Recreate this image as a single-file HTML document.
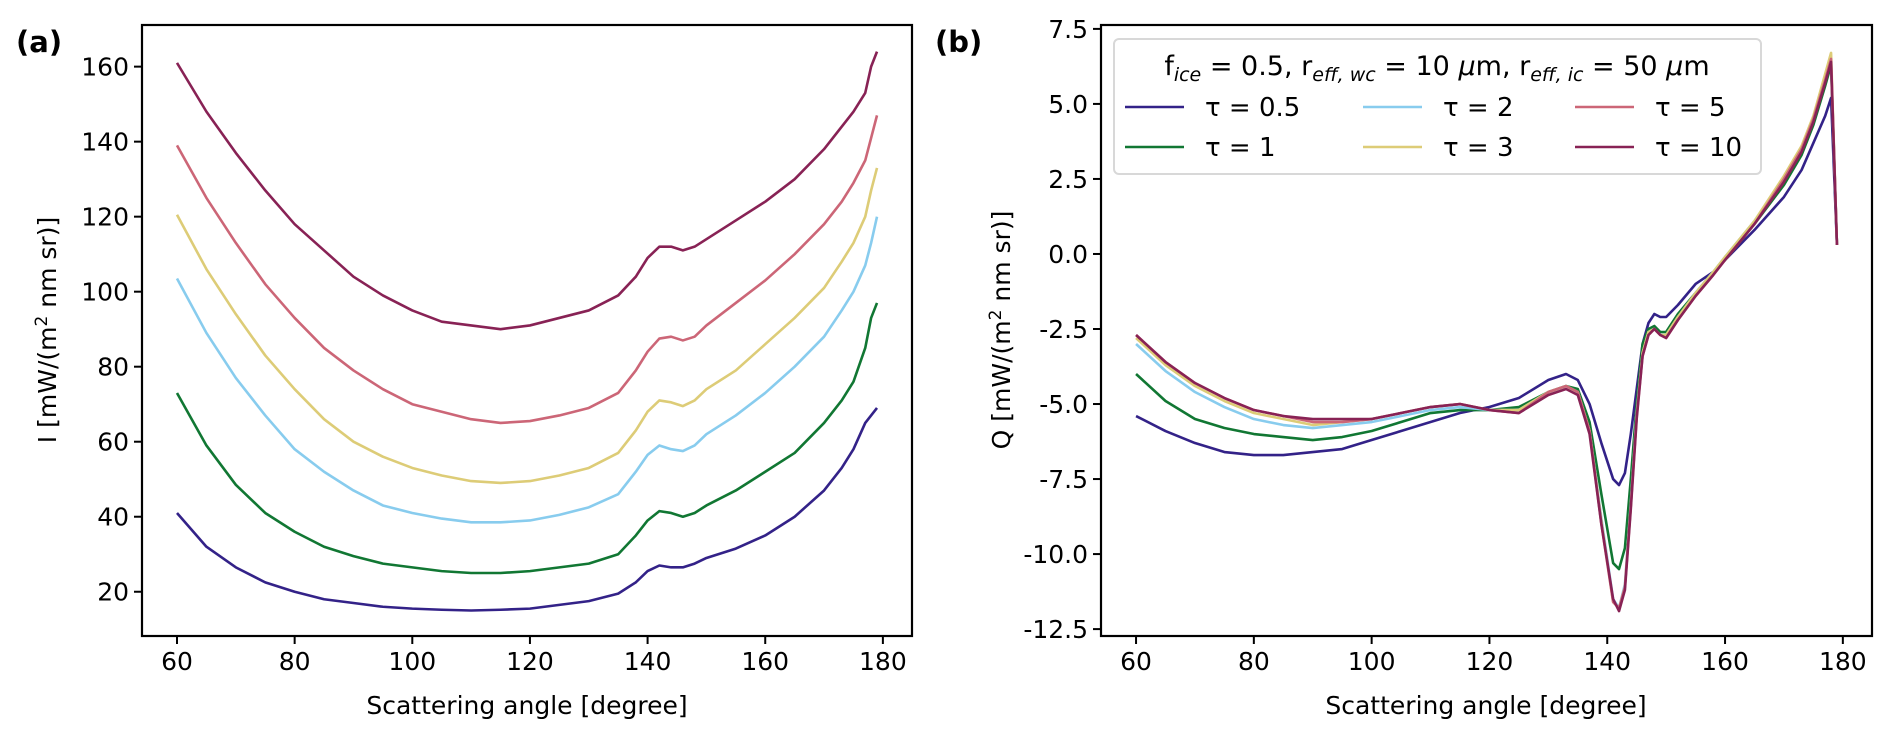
<!DOCTYPE html>
<html><head><meta charset="utf-8"><style>
html,body{margin:0;padding:0;background:#fff;}
svg{display:block;font-family:"DejaVu Sans","Liberation Sans",sans-serif;}
</style></head><body>
<svg id="fig" width="1892" height="740" viewBox="0 0 1892 740" xmlns="http://www.w3.org/2000/svg">
<rect width="1892" height="740" fill="#fff"/>
<g id="pa"></g>
<g id="pb"></g>
<text x="16" y="52" font-size="29" font-weight="bold">(a)</text>
<text x="935" y="52" font-size="29" font-weight="bold">(b)</text>
<text x="527" y="714" font-size="25" text-anchor="middle">Scattering angle [degree]</text>
<text x="1486" y="714" font-size="25" text-anchor="middle">Scattering angle [degree]</text>
<text transform="translate(56,330) rotate(-90)" font-size="25" text-anchor="middle">I [mW/(m<tspan dy="-9" font-size="17">2</tspan><tspan dy="9"> nm sr)]</tspan></text>
<text transform="translate(1010,330) rotate(-90)" font-size="25" text-anchor="middle">Q [mW/(m<tspan dy="-9" font-size="17">2</tspan><tspan dy="9"> nm sr)]</tspan></text>
<g>
<rect x="1114" y="39" width="647" height="135" rx="5" fill="#fff" fill-opacity="0.85" stroke="#d8d8d8" stroke-width="2"/>
<text x="1437" y="75" font-size="27" text-anchor="middle">f<tspan font-style="italic" font-size="19" dy="6">ice</tspan><tspan dy="-6"> = 0.5, r</tspan><tspan font-style="italic" font-size="19" dy="6">eff, wc</tspan><tspan dy="-6"> = 10 </tspan><tspan font-style="italic">μ</tspan>m, r<tspan font-style="italic" font-size="19" dy="6">eff, ic</tspan><tspan dy="-6"> = 50 </tspan><tspan font-style="italic">μ</tspan>m</text>
<g id="legItems"></g>
</g>
</svg>
<script>
const xsA = [60,65,70,75,80,85,90,95,100,105,110,115,120,125,130,135,138,140,142,144,146,148,150,155,160,165,170,173,175,177,178,179];
const iT05 = [41,32,26.5,22.5,20,18,17,16,15.5,15.2,15,15.2,15.5,16.5,17.5,19.5,22.5,25.5,27,26.5,26.5,27.5,29,31.5,35,40,47,53,58,65,67,69];
const iT1 = [73,59,48.5,41,36,32,29.5,27.5,26.5,25.5,25,25,25.5,26.5,27.5,30,35,39,41.5,41,40,41,43,47,52,57,65,71,76,85,93,97];
const iT2 = [103.5,89,77,67,58,52,47,43,41,39.5,38.5,38.5,39,40.5,42.5,46,52,56.5,59,58,57.5,59,62,67,73,80,88,95,100,107,113,120];
const iT3 = [120.5,106,94,83,74,66,60,56,53,51,49.5,49,49.5,51,53,57,63,68,71,70.5,69.5,71,74,79,86,93,101,108,113,120,127,133];
const iT5 = [139,125,113,102,93,85,79,74,70,68,66,65,65.5,67,69,73,79,84,87.5,88,87,88,91,97,103,110,118,124,129,135,141,147];
const iT10 = [161,148,137,127,118,111,104,99,95,92,91,90,91,93,95,99,104,109,112,112,111,112,114,119,124,130,138,144,148,153,160,164];
const xsB = [60,65,70,75,80,85,90,95,100,105,110,115,120,125,130,133,135,137,139,141,142,143,144,145,146,147,148,149,150,152,155,158,160,165,170,173,175,177,178,179];
const qT05 = [-5.4,-5.9,-6.3,-6.6,-6.7,-6.7,-6.6,-6.5,-6.2,-5.9,-5.6,-5.3,-5.1,-4.8,-4.2,-4.0,-4.2,-5.0,-6.3,-7.5,-7.7,-7.3,-6.0,-4.5,-3.0,-2.3,-2.0,-2.1,-2.1,-1.7,-1.0,-0.6,-0.2,0.8,1.9,2.8,3.7,4.6,5.2,0.3];
const qT1 = [-4.0,-4.9,-5.5,-5.8,-6.0,-6.1,-6.2,-6.1,-5.9,-5.6,-5.3,-5.2,-5.2,-5.1,-4.6,-4.4,-4.5,-5.6,-8.0,-10.3,-10.5,-9.8,-7.5,-5.0,-3.0,-2.5,-2.4,-2.6,-2.6,-2.0,-1.3,-0.6,-0.2,1.0,2.3,3.3,4.3,5.6,6.3,0.3];
const qT2 = [-3.0,-3.9,-4.6,-5.1,-5.5,-5.7,-5.8,-5.7,-5.6,-5.4,-5.2,-5.1,-5.2,-5.2,-4.6,-4.4,-4.6,-5.9,-8.8,-11.5,-11.8,-11.0,-8.3,-5.3,-3.3,-2.6,-2.5,-2.7,-2.7,-2.1,-1.3,-0.6,-0.1,1.1,2.5,3.5,4.5,5.9,6.5,0.3];
const qT3 = [-2.8,-3.7,-4.4,-4.9,-5.3,-5.5,-5.7,-5.6,-5.5,-5.3,-5.1,-5.0,-5.2,-5.2,-4.6,-4.4,-4.6,-5.9,-8.9,-11.6,-11.8,-11.1,-8.4,-5.4,-3.3,-2.6,-2.5,-2.7,-2.7,-2.1,-1.3,-0.6,-0.1,1.1,2.6,3.6,4.6,6.0,6.7,0.3];
const qT5 = [-2.7,-3.6,-4.3,-4.8,-5.2,-5.4,-5.6,-5.6,-5.5,-5.3,-5.1,-5.0,-5.2,-5.3,-4.6,-4.4,-4.6,-5.9,-9.0,-11.6,-11.8,-11.1,-8.4,-5.4,-3.4,-2.7,-2.5,-2.7,-2.8,-2.2,-1.4,-0.7,-0.2,1.0,2.5,3.5,4.5,5.8,6.5,0.3];
const qT10 = [-2.7,-3.6,-4.3,-4.8,-5.2,-5.4,-5.5,-5.5,-5.5,-5.3,-5.1,-5.0,-5.2,-5.3,-4.7,-4.5,-4.7,-6.0,-9.0,-11.5,-11.9,-11.2,-8.5,-5.5,-3.4,-2.7,-2.5,-2.7,-2.8,-2.2,-1.4,-0.7,-0.2,1.0,2.4,3.4,4.4,5.7,6.4,0.3];
const seriesLabels = ["τ = 0.5","τ = 1","τ = 2","τ = 3","τ = 5","τ = 10"];
const seriesKeys = ["tau-0-5","tau-1","tau-2","tau-3","tau-5","tau-10"];
const xTicks = [60,80,100,120,140,160,180];
const yTicksA = [20,40,60,80,100,120,140,160];
const yTicksB = [-12.5,-10.0,-7.5,-5.0,-2.5,0.0,2.5,5.0,7.5];

const colors = ["#332288","#117733","#88CCEE","#DDCC77","#CC6677","#882255"];
const NS = "http://www.w3.org/2000/svg";
function mk(tag, attrs, parent){const e=document.createElementNS(NS,tag);for(const k in attrs)e.setAttribute(k,attrs[k]);parent.appendChild(e);return e;}

function drawPanel(g, L, R, T, B, xmin, xmax, ymin, ymax, yTicks, fmt, xs, series, tag){
  const sx = v => L + (v - xmin) / (xmax - xmin) * (R - L);
  const sy = v => B - (v - ymin) / (ymax - ymin) * (B - T);
  series.forEach((ys, i) => {
    const d = ys.map((y, j) => (j ? "L" : "M") + sx(xs[j]).toFixed(2) + " " + sy(y).toFixed(2)).join(" ");
    const p = mk("path", {d: d, fill: "none", stroke: colors[i], "stroke-width": 2.6, "stroke-linejoin": "round"}, g);
    
    
  });
  const frame = mk("rect", {x: L, y: T, width: R - L, height: B - T, fill: "none", stroke: "#000", "stroke-width": 2.2}, g);
  
  
  xTicks.forEach(t => {
    const x = sx(t);
    const tk = mk("line", {x1: x, x2: x, y1: B, y2: B + 8, stroke: "#000", "stroke-width": 2}, g);
    
    
    const tx = mk("text", {x: x, y: B + 34, "font-size": 25, "text-anchor": "middle"}, g);
    tx.textContent = t;
    
    
  });
  yTicks.forEach(t => {
    const y = sy(t);
    const tk = mk("line", {x1: L - 8, x2: L, y1: y, y2: y, stroke: "#000", "stroke-width": 2}, g);
    
    
    const tx = mk("text", {x: L - 13, y: y + 9, "font-size": 25, "text-anchor": "end"}, g);
    tx.textContent = fmt(t);
    
    
  });
}
drawPanel(document.getElementById("pa"), 142, 912, 25, 636, 54.05, 184.95, 8.2, 171.1, yTicksA, t => String(t), xsA, [iT05, iT1, iT2, iT3, iT5, iT10], "a");
drawPanel(document.getElementById("pb"), 1101, 1872, 25, 636, 54.05, 184.95, -12.73, 7.63, yTicksB, t => t.toFixed(1), xsB, [qT05, qT1, qT2, qT3, qT5, qT10], "b");

const leg = document.getElementById("legItems");
const colX = [1125, 1363, 1575], rowY = [107, 147];
seriesLabels.forEach((lab, i) => {
  const c = Math.floor(i / 2), r = i % 2;
  const ln = mk("line", {x1: colX[c], x2: colX[c] + 59, y1: rowY[r], y2: rowY[r], stroke: colors[i], "stroke-width": 2.6}, leg);
  
  
  const tx = mk("text", {x: colX[c] + 80, y: rowY[r] + 9, "font-size": 26}, leg);
  tx.textContent = lab;
  
  
});
</script>
</body></html>
